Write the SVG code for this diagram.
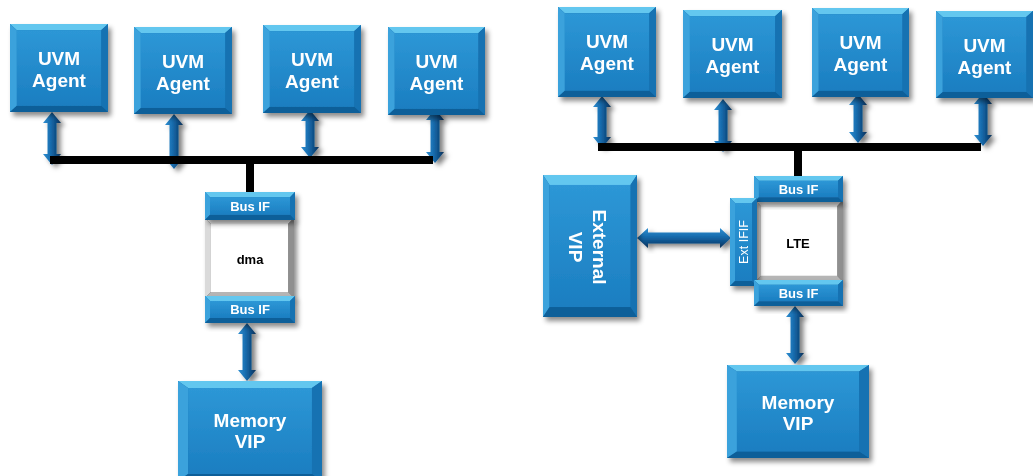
<svg xmlns="http://www.w3.org/2000/svg" width="1033" height="476" viewBox="0 0 1033 476">
<defs>
<linearGradient id="gFace" x1="0" y1="0" x2="0" y2="1">
<stop offset="0" stop-color="#2d97d6"/><stop offset="1" stop-color="#1b7ec1"/>
</linearGradient>
<linearGradient id="gArrowV" x1="0" y1="0" x2="1" y2="0">
<stop offset="0" stop-color="#2f8fd2"/><stop offset="0.4" stop-color="#1a6eb0"/><stop offset="0.75" stop-color="#0c4a80"/><stop offset="1" stop-color="#082f55"/>
</linearGradient>
<linearGradient id="gArrowH" x1="0" y1="0" x2="0" y2="1">
<stop offset="0" stop-color="#2f8fd2"/><stop offset="0.4" stop-color="#1a6eb0"/><stop offset="0.75" stop-color="#0c4a80"/><stop offset="1" stop-color="#082f55"/>
</linearGradient>
<filter id="sh" x="-20%" y="-20%" width="150%" height="150%">
<feDropShadow dx="3" dy="4" stdDeviation="2.5" flood-color="#000" flood-opacity="0.45"/>
</filter>
<filter id="sha" x="-50%" y="-20%" width="250%" height="150%">
<feDropShadow dx="4" dy="3" stdDeviation="2.5" flood-color="#000" flood-opacity="0.5"/>
</filter>
<symbol id="bev" viewBox="0 0 100 100" preserveAspectRatio="none">
<rect width="100" height="100" fill="#166fae"/>
<polygon points="0,0 100,0 93,7 7,7" fill="#64c7ef"/>
<polygon points="0,0 7,7 7,93 0,100" fill="#3aa2dc"/>
<polygon points="100,0 100,100 93,93 93,7" fill="#1772b2"/>
<polygon points="0,100 7,93 93,93 100,100" fill="#0f5f99"/>
<rect x="7" y="7" width="86" height="86" fill="url(#gFace)"/>
</symbol>
<symbol id="bevFlat" viewBox="0 0 90 27" preserveAspectRatio="none">
<rect width="90" height="27" fill="#166fae"/>
<polygon points="0,0 90,0 85,5 5,5" fill="#64c7ef"/>
<polygon points="0,0 5,5 5,22 0,27" fill="#3aa2dc"/>
<polygon points="90,0 90,27 85,22 85,5" fill="#1772b2"/>
<polygon points="0,27 5,22 85,22 90,27" fill="#0f5f99"/>
<rect x="5" y="5" width="80" height="17" fill="url(#gFace)"/>
</symbol>
<symbol id="bevTall" viewBox="0 0 27 88" preserveAspectRatio="none">
<rect width="27" height="88" fill="#166fae"/>
<polygon points="0,0 27,0 22,5 5,5" fill="#64c7ef"/>
<polygon points="0,0 5,5 5,83 0,88" fill="#3aa2dc"/>
<polygon points="27,0 27,88 22,83 22,5" fill="#1772b2"/>
<polygon points="0,88 5,83 22,83 27,88" fill="#0f5f99"/>
<rect x="5" y="5" width="17" height="78" fill="url(#gFace)"/>
</symbol>
<symbol id="bevWhite" viewBox="0 0 90 80" preserveAspectRatio="none">
<rect width="90" height="80" fill="#555"/>
<polygon points="0,0 90,0 84,6 6,6" fill="#f0f0f0"/>
<polygon points="0,0 6,6 6,74 0,80" fill="#dadada"/>
<polygon points="90,0 90,80 84,74 84,6" fill="#8f8f8f"/>
<polygon points="0,80 6,74 84,74 90,80" fill="#b5b5b5"/>
<rect x="6" y="6" width="78" height="68" fill="#ffffff"/>
</symbol>
</defs>
<style>
.node{filter:url(#sh)}
.lbl{font-family:"Liberation Sans",Arial,sans-serif;font-weight:bold;font-size:19px;fill:#ffffff;text-anchor:middle}
.sm{font-family:"Liberation Sans",Arial,sans-serif;font-weight:bold;font-size:13px;fill:#ffffff;text-anchor:middle}
.ext{font-family:"Liberation Sans",Arial,sans-serif;font-size:12.5px;fill:#ffffff;text-anchor:middle}
.blk{font-family:"Liberation Sans",Arial,sans-serif;font-weight:bold;font-size:13px;fill:#000000;text-anchor:middle}
.arv{fill:url(#gArrowV);filter:url(#sha)}
.arh{fill:url(#gArrowH);filter:url(#sha)}
.bus{stroke:#000;stroke-width:8;fill:none}
</style>
<rect width="1033" height="476" fill="#ffffff"/>

<g id="connectors">
<polygon class="arv" points="52,112 61,123 56.5,123 56.5,154 61,154 52,165 43,154 47.5,154 47.5,123 43,123"/>
<polygon class="arv" points="174,114 183,125 178.5,125 178.5,158 183,158 174,169 165,158 169.5,158 169.5,125 165,125"/>
<polygon class="arv" points="310,110 319,121 314.5,121 314.5,147 319,147 310,158 301,147 305.5,147 305.5,121 301,121"/>
<polygon class="arv" points="435,109 444,120 439.5,120 439.5,152 444,152 435,163 426,152 430.5,152 430.5,120 426,120"/>
<polygon class="arv" points="247,323 256,334 251.5,334 251.5,370 256,370 247,381 238,370 242.5,370 242.5,334 238,334"/>
<polygon class="arv" points="602,96 611,107 606.5,107 606.5,137 611,137 602,148 593,137 597.5,137 597.5,107 593,107"/>
<polygon class="arv" points="723,99 732,110 727.5,110 727.5,141 732,141 723,152 714,141 718.5,141 718.5,110 714,110"/>
<polygon class="arv" points="858,94 867,105 862.5,105 862.5,132 867,132 858,143 849,132 853.5,132 853.5,105 849,105"/>
<polygon class="arv" points="983,93 992,104 987.5,104 987.5,135 992,135 983,146 974,135 978.5,135 978.5,104 974,104"/>
<polygon class="arv" points="795,306 804,317 799.5,317 799.5,353 804,353 795,364 786,353 790.5,353 790.5,317 786,317"/>
<polygon class="arh" points="637,238 648,228 648,232.5 720,232.5 720,228 731,238 720,248 720,243.5 648,243.5 648,248"/>
<path class="bus" d="M50 160 H433 M250 160 V193"/>
<path class="bus" d="M598 147 H981 M798 147 V177"/>
</g>

<g id="agent-l1" class="node"><use href="#bev" x="10" y="24" width="98" height="88"/><text class="lbl" x="59" y="65">UVM</text><text class="lbl" x="59" y="87">Agent</text></g>
<g id="agent-l2" class="node"><use href="#bev" x="134" y="27" width="98" height="87"/><text class="lbl" x="183" y="68">UVM</text><text class="lbl" x="183" y="90">Agent</text></g>
<g id="agent-l3" class="node"><use href="#bev" x="263" y="25" width="98" height="88"/><text class="lbl" x="312" y="66">UVM</text><text class="lbl" x="312" y="88">Agent</text></g>
<g id="agent-l4" class="node"><use href="#bev" x="388" y="27" width="97" height="88"/><text class="lbl" x="436.5" y="68">UVM</text><text class="lbl" x="436.5" y="90">Agent</text></g>

<g id="dma" class="node"><use href="#bevWhite" x="205" y="218" width="89" height="80"/><text class="blk" x="250" y="264">dma</text></g>
<g id="dma-busif-top" class="node"><use href="#bevFlat" x="205" y="192" width="90" height="28"/><text class="sm" x="250" y="211">Bus IF</text></g>
<g id="dma-busif-bot" class="node"><use href="#bevFlat" x="205" y="296" width="90" height="27"/><text class="sm" x="250" y="314">Bus IF</text></g>
<g id="memvip-l" class="node"><use href="#bev" x="178" y="381" width="144" height="100"/><text class="lbl" x="250" y="427">Memory</text><text class="lbl" x="250" y="448">VIP</text></g>

<g id="agent-r1" class="node"><use href="#bev" x="558" y="7" width="98" height="90"/><text class="lbl" x="607" y="48">UVM</text><text class="lbl" x="607" y="70">Agent</text></g>
<g id="agent-r2" class="node"><use href="#bev" x="683" y="10" width="99" height="88"/><text class="lbl" x="732.5" y="51">UVM</text><text class="lbl" x="732.5" y="73">Agent</text></g>
<g id="agent-r3" class="node"><use href="#bev" x="812" y="8" width="97" height="89"/><text class="lbl" x="860.5" y="49">UVM</text><text class="lbl" x="860.5" y="71">Agent</text></g>
<g id="agent-r4" class="node"><use href="#bev" x="936" y="11" width="97" height="87"/><text class="lbl" x="984.5" y="52">UVM</text><text class="lbl" x="984.5" y="74">Agent</text></g>

<g id="external-vip" class="node"><use href="#bev" x="543" y="175" width="94" height="142"/>
<g transform="translate(590,247) rotate(90)"><text class="lbl" x="0" y="-3">External</text><text class="lbl" x="0" y="21">VIP</text></g></g>

<g id="lte" class="node"><use href="#bevWhite" x="755" y="200" width="88" height="82"/><text class="blk" x="798" y="248">LTE</text></g>
<g id="lte-busif-top" class="node"><use href="#bevFlat" x="754" y="176" width="89" height="26"/><text class="sm" x="798.5" y="194">Bus IF</text></g>
<g id="lte-extif" class="node"><use href="#bevTall" x="730" y="198" width="27" height="88"/><text class="ext" transform="translate(743.5,242) rotate(-90)" x="0" y="4.5">Ext IFIF</text></g>
<g id="lte-busif-bot" class="node"><use href="#bevFlat" x="754" y="280" width="89" height="26"/><text class="sm" x="798.5" y="298">Bus IF</text></g>
<g id="memvip-r" class="node"><use href="#bev" x="727" y="365" width="142" height="93"/><text class="lbl" x="798" y="409">Memory</text><text class="lbl" x="798" y="430">VIP</text></g>
</svg>
